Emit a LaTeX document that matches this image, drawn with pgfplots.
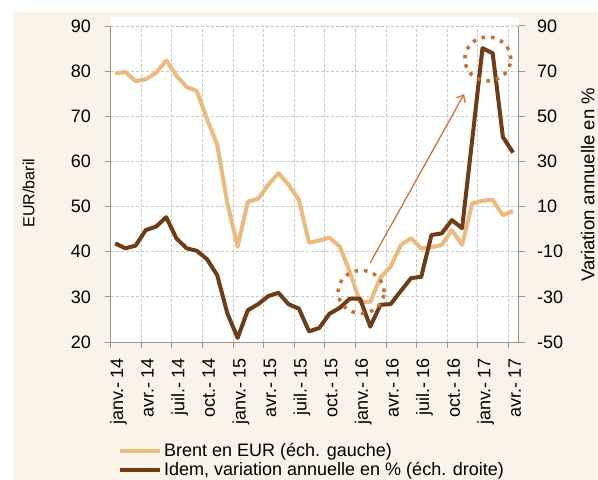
\documentclass[border=0pt]{standalone}
\usepackage{fontspec}
\setmainfont{Liberation Sans}
\usepackage{pgfplots}
\pgfplotsset{compat=1.18}
\usetikzlibrary{arrows.meta}
\definecolor{brentc}{RGB}{236,186,124}
\definecolor{varc}{RGB}{112,60,22}
\definecolor{annc}{RGB}{204,108,48}
\definecolor{creamc}{RGB}{250,243,233}
\definecolor{gridc}{RGB}{200,200,200}
\definecolor{axisc}{RGB}{150,150,150}

\pgfplotstableread{
x y
0.45 79.5
1.45 79.8
2.45 77.8
3.45 78.2
4.45 79.6
5.45 82.4
6.45 79.0
7.45 76.5
8.45 75.6
9.45 69.4
10.45 63.7
11.45 50.7
12.45 41.1
13.45 51.1
14.45 51.7
15.45 54.8
16.45 57.4
17.45 54.8
18.45 51.5
19.45 42.0
20.45 42.5
21.45 43.1
22.45 41.2
23.45 35.5
24.45 28.8
25.45 28.9
26.45 34.3
27.45 36.7
28.45 41.5
29.45 43.0
30.45 40.7
31.45 41.0
32.45 41.5
33.45 44.8
34.45 41.5
35.45 50.7
36.45 51.3
37.45 51.5
38.45 48.1
39.45 49.0
}\brent

\pgfplotstableread{
x y
0.45 -6.3
1.45 -8.5
2.45 -7.3
3.45 -0.4
4.45 1.1
5.45 5.3
6.45 -4.1
7.45 -8.5
8.45 -9.6
9.45 -13.3
10.45 -20.4
11.45 -37.4
12.45 -48.2
13.45 -35.9
14.45 -33.3
15.45 -29.7
16.45 -28.2
17.45 -33.3
18.45 -35.2
19.45 -45.3
20.45 -43.8
21.45 -37.5
22.45 -34.9
23.45 -30.8
24.45 -30.8
25.45 -43.2
26.45 -33.5
27.45 -33.2
28.45 -27.4
29.45 -21.7
30.45 -21.1
31.45 -2.6
32.45 -1.9
33.45 4.0
34.45 0.4
35.45 39.8
36.45 80.2
37.45 77.9
38.45 40.8
39.45 33.9
}\variation

\newcommand{\hy}{-\hspace{3.5bp}}

\begin{document}
\begin{tikzpicture}
\useasboundingbox (0,0) rectangle (598bp,480bp);
\fill[white] (0,0) rectangle (598bp,480bp);
\fill[creamc] (13bp,0) rectangle (598bp,468bp);

\pgfplotsset{
  commonaxis/.style={
    at={(110.6bp,138bp)}, anchor=south west,
    scale only axis, width=408.1bp, height=316bp,
    xmin=0, xmax=40,
    axis line style={axisc, line width=1bp},
    tick style={axisc, line width=1bp},
    tick align=outside, major tick length=6bp,
    ticklabel style={font=\fontsize{18bp}{21bp}\selectfont},
    /pgf/number format/assume math mode=true,
  }
}

\begin{axis}[
  commonaxis,
  ymin=20, ymax=90,
  axis x line*=bottom, axis y line*=left,
  xtick={0,3,...,39},
  xticklabels={janv.\hy14,avr.\hy14,juil.\hy14,oct.\hy14,janv.\hy15,avr.\hy15,juil.\hy15,oct.\hy15,janv.\hy16,avr.\hy16,juil.\hy16,oct.\hy16,janv.\hy17,avr.\hy17},
  ytick={20,30,...,90},
  grid=major,
  grid style={gridc, line width=0.8bp, dash pattern=on 3bp off 2bp},
  xticklabel style={xshift=12.5bp, yshift=-10.5bp, rotate=90, anchor=base east, inner sep=0pt},
  yticklabel style={anchor=east, inner sep=0pt, xshift=-13.5bp},
  ylabel={EUR/baril},
  ylabel style={at={(axis description cs:-0.201,0.4715)}, anchor=center, rotate=0, font=\fontsize{16bp}{19bp}\selectfont},
  axis background/.style={fill=white},
  clip=false,
]
\fill[white] ([yshift=0.6bp]rel axis cs:0,1) rectangle ([yshift=9bp]rel axis cs:1,1);
\addplot[brentc, line width=4bp, line join=round] table[x=x, y=y] {\brent};
\end{axis}

\begin{axis}[
  commonaxis,
  ymin=-50, ymax=90,
  axis x line=none, axis y line*=right,
  ytick={-50,-30,...,90},
  yticklabel style={anchor=west, inner sep=0pt, xshift=12.3bp},
  ylabel={Variation annuelle en \%},
  ylabel style={at={(axis description cs:1.169,0.497)}, anchor=center, rotate=0, font=\fontsize{18.5bp}{22bp}\selectfont},
  legend style={at={(axis description cs:0.018,-0.317)}, anchor=north west, draw=none, fill=none,
    inner sep=0pt, row sep=2.5bp, font=\fontsize{18bp}{21bp}\selectfont,
    nodes={inner xsep=2bp, inner ysep=1bp}},
  legend cell align=left,
  legend image code/.code={\draw[#1] (0bp,0bp) -- (40bp,0bp);},
]
\addlegendimage{brentc, line width=4bp}
\addlegendentry{Brent en EUR (éch. gauche)}
\addplot[varc, line width=4bp, line join=round] table[x=x, y=y] {\variation};
\addlegendentry{Idem, variation annuelle en \% (éch. droite)}
\draw[annc, line width=3.5bp, dash pattern=on 3.5bp off 6bp] (axis cs:24.55,-27.8) ellipse [x radius=23bp, y radius=21.5bp];
\draw[annc, line width=3.5bp, dash pattern=on 3.5bp off 6bp] (axis cs:36.97,75.4) ellipse [x radius=23bp, y radius=22bp];
\draw[annc, line width=1.2bp, -{Straight Barb[length=6bp, width=10bp]}] (axis cs:25.43,-15.0) -- (axis cs:34.65,59.8);
\end{axis}
\end{tikzpicture}
\end{document}
